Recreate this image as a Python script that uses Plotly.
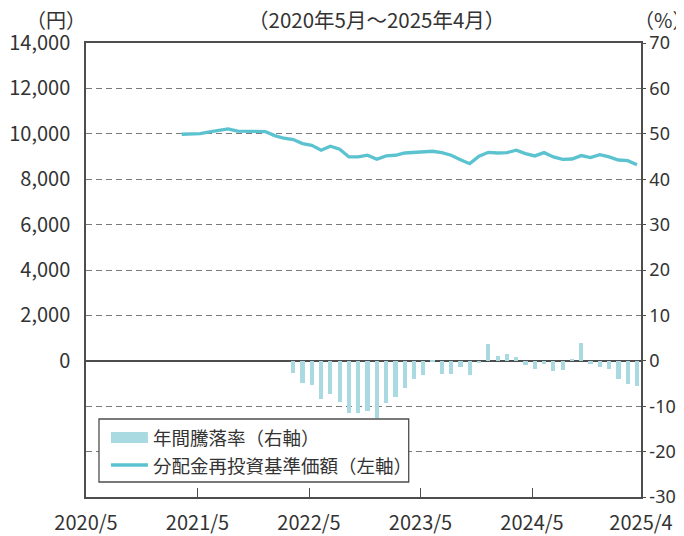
import plotly.graph_objects as go

# ---- data ----
month_labels = ["2020/5", "2021/5", "2022/5", "2023/5", "2024/5", "2025/4"]
# month index 0 = 2020/5 ... 59 = 2025/4
nav_start = 10  # 2021/3
nav_values = [
    9980, 10010, 10010, 10080, 10160, 10215, 10115, 10115, 10115, 10100,
    9920, 9805, 9745, 9570, 9495, 9275, 9450, 9320, 8980, 8980,
    9055, 8875, 9025, 9055, 9155, 9170, 9185, 9230, 9170, 9055,
    8860, 8685, 9010, 9185, 9155, 9170, 9275, 9125, 9025, 9170,
    8980, 8875, 8890, 9040, 8950, 9080, 8980, 8845, 8815, 8640,
]
ret_start = 22  # 2022/3
ret_values = [
    -2.6, -4.8, -5.4, -8.5, -7.4, -9.0, -11.6, -11.6, -11.0, -12.5,
    -9.2, -7.9, -6.1, -4.1, -3.2, -0.3, -2.9, -2.8, -1.4, -3.2,
    -0.5, 3.6, 1.1, 1.6, 0.9, -1.0, -1.9, -0.8, -2.3, -2.1,
    0.5, 4.0, -0.8, -1.4, -1.9, -3.9, -5.2, -5.6,
]
left_ticks = list(range(0, 14001, 2000))
right_ticks = list(range(-30, 71, 10))

nav_x = list(range(nav_start, nav_start + len(nav_values)))
ret_x = list(range(ret_start, ret_start + len(ret_values)))

BAR_C = "#a9dae2"
LINE_C = "#5bc3cf"
AX_C = "#4d4d4d"
TXT_C = "#333333"
FONT = "Noto Sans CJK JP"

X0, X1 = -0.3, 59.43
tick_pos = [X0, 11.7, 23.7, 35.7, 47.7, X1]

fig = go.Figure()
fig.add_trace(go.Bar(x=ret_x, y=ret_values, yaxis="y2", marker_color=BAR_C,
                     marker_line_width=0, width=0.45, name="年間騰落率（右軸）",
                     showlegend=False))
fig.add_trace(go.Scatter(x=nav_x, y=nav_values, yaxis="y", mode="lines",
                         line=dict(color=LINE_C, width=3.3),
                         name="分配金再投資基準価額（左軸）", showlegend=False))

# page has an 8px body margin -> figure is placed at (8, 8)
OFF = 8
W, H = 684 - OFF, 536 - OFF
PL, PR, PT, PB = 86, 641.5, 43, 497  # plot area in page pixels
L, R, T, B = PL - OFF, W - (PR - OFF), PT - OFF, H - (PB - OFF)
pw, ph = W - L - R, H - T - B


def px(x):
    return (x - PL) / pw


def py(y):
    return (PB - y) / ph


fig.update_layout(
    width=W, height=H,
    margin=dict(l=L, r=R, t=T, b=B, autoexpand=False),
    paper_bgcolor="white", plot_bgcolor="white",
    font=dict(family=FONT, size=20, color=TXT_C),
    bargap=0,
    xaxis=dict(range=[X0, X1], tickvals=tick_pos, ticktext=month_labels,
               showgrid=False, zeroline=False, showline=True, linecolor=AX_C,
               linewidth=1.5, mirror=True, ticks="inside", ticklen=9,
               tickcolor=AX_C, tickwidth=1, ticklabelstandoff=7,
               automargin=False),
    yaxis=dict(range=[-6000, 14000], tickvals=left_ticks,
               ticktext=[f"{v:,}" for v in left_ticks], showgrid=False,
               zeroline=False, showline=True, linecolor=AX_C, linewidth=1.5,
               ticks="", ticklabelstandoff=10, automargin=False),
    yaxis2=dict(range=[-30, 70], tickvals=right_ticks,
                ticktext=[str(v) for v in right_ticks], overlaying="y",
                side="right", showgrid=True, gridcolor="#7a7a7a",
                griddash="6px,4px", gridwidth=1.3, zeroline=True,
                zerolinecolor=AX_C, zerolinewidth=1.5, showline=True,
                linecolor=AX_C, linewidth=1.5, ticks="outside", ticklen=3,
                tickcolor=AX_C, ticklabelstandoff=0, automargin=False,
                tickfont=dict(family="Noto Sans", size=18)),
)

# titles / units
ann = dict(xref="paper", yref="paper", showarrow=False, yanchor="middle",
           xanchor="center", borderpad=0)
fig.add_annotation(x=px(377), y=py(19.5), text="（2020年5月～2025年4月）",
                   font=dict(size=20.5, color=TXT_C), **ann)
fig.add_annotation(x=px(56), y=py(19.5), text="（円）",
                   font=dict(size=20, color=TXT_C), **ann)
fig.add_annotation(x=px(664), y=py(19.5), text="（%）",
                   font=dict(size=20, color=TXT_C), **ann)

# legend box
fig.add_shape(type="rect", xref="paper", yref="paper", x0=px(99), x1=px(409),
              y0=py(482), y1=py(419), fillcolor="white",
              line=dict(color=AX_C, width=1.3), layer="above")
fig.add_shape(type="rect", xref="paper", yref="paper", x0=px(111), x1=px(148),
              y0=py(443), y1=py(432), fillcolor=BAR_C, line=dict(width=0),
              layer="above")
fig.add_shape(type="line", xref="paper", yref="paper", x0=px(111), x1=px(148),
              y0=py(465), y1=py(465), line=dict(color=LINE_C, width=3.3),
              layer="above")
leg = dict(ann, xanchor="left")
fig.add_annotation(x=px(152), y=py(437), text="年間騰落率（右軸）",
                   font=dict(size=18.5, color=TXT_C), **leg)
fig.add_annotation(x=px(152), y=py(465), text="分配金再投資基準価額（左軸）",
                   font=dict(size=18.5, color=TXT_C), **leg)

fig.write_html("out.html")
